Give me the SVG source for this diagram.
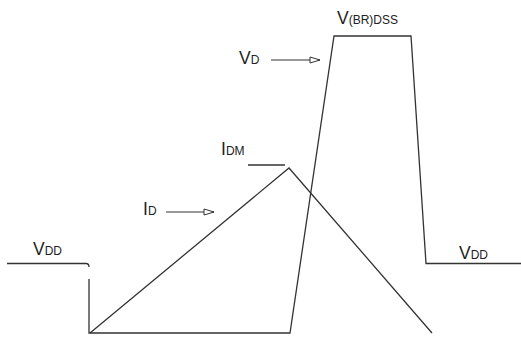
<svg xmlns="http://www.w3.org/2000/svg" width="521" height="338" viewBox="0 0 521 338">
<style>
.w{fill:none;stroke:#333;stroke-width:1.3;stroke-linejoin:miter}
.t{font-family:"Liberation Sans",Arial,sans-serif;font-size:17.5px;fill:#222}
.s{font-size:12px}
.a{fill:none;stroke:#333;stroke-width:1.1}
</style>
<defs>
<marker id="ah" viewBox="0 0 12 8" refX="11" refY="4" markerWidth="12" markerHeight="8" markerUnits="userSpaceOnUse" orient="auto">
<path d="M1,1 L11,4 L1,7 Z" fill="#fff" stroke="#333" stroke-width="1"/>
</marker>
</defs>
<g id="waveforms">
<path class="w" d="M7,263.5 H86 Q89,263.5 89,267"/>
<path class="w" d="M89,279 V333 H290 L334,36 H411 L426,263.5 H521"/>
<path class="w" d="M90,333 L289,168 L432,333"/>
<path class="w" d="M248,165 H285"/>
</g>
<g id="label-vdd-left"><text class="t" x="33" y="255">V<tspan class="s">DD</tspan></text></g>
<g id="label-vdd-right"><text class="t" x="459" y="259">V<tspan class="s">DD</tspan></text></g>
<g id="label-id"><text class="t" x="143" y="215">I<tspan class="s">D</tspan></text></g>
<g id="label-idm"><text class="t" x="221" y="155">I<tspan class="s">DM</tspan></text></g>
<g id="label-vd"><text class="t" x="239" y="64">V<tspan class="s">D</tspan></text></g>
<g id="label-vbr"><text class="t" x="337" y="24">V<tspan class="s">(BR)DSS</tspan></text></g>
<g id="connectors">
<line class="a" x1="166" y1="212" x2="214" y2="212" marker-end="url(#ah)"/>
<line class="a" x1="271" y1="60" x2="320" y2="60" marker-end="url(#ah)"/>
</g>
</svg>
